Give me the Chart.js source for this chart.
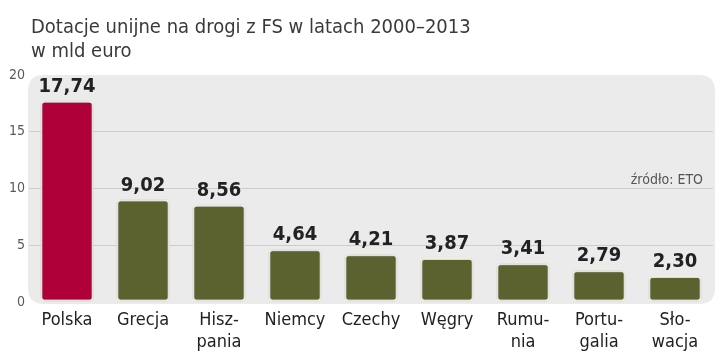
<!DOCTYPE html>
<html>
<head>
<meta charset="utf-8">
<script src="https://cdn.jsdelivr.net/npm/chart.js@4"></script>
<style>
html,body{margin:0;padding:0;background:#fff;}
#wrap{width:720px;height:364px;position:relative;}
</style>
</head>
<body>
<div id="wrap"><canvas id="c" width="720" height="364"></canvas></div>
<script>
const categories = [["Polska"], ["Grecja"], ["Hisz-", "pania"], ["Niemcy"], ["Czechy"], ["Węgry"], ["Rumu-", "nia"], ["Portu-", "galia"], ["Sło-", "wacja"]];
const values = [17.74, 9.02, 8.56, 4.64, 4.21, 3.87, 3.41, 2.79, 2.30];
const valueLabels = ["17,74", "9,02", "8,56", "4,64", "4,21", "3,87", "3,41", "2,79", "2,30"];
const barColors = ["#B0003A", "#5C6130", "#5C6130", "#5C6130", "#5C6130", "#5C6130", "#5C6130", "#5C6130", "#5C6130"];
const yTicks = [0, 5, 10, 15, 20];
const titleLines = ["Dotacje unijne na drogi z FS w latach 2000–2013", "w mld euro"];
const sourceText = "źródło: ETO";

const COND = '"DejaVu Sans Condensed", "DejaVu Sans", sans-serif';

const panelPlugin = {
  id: 'panel',
  beforeDraw(chart) {
    const {ctx, chartArea: a} = chart;
    ctx.save();
    const x = a.left - 1, y = a.top, w = a.right - a.left + 3, h = a.bottom - a.top + 2;
    const r = 16;
    ctx.beginPath();
    ctx.moveTo(x + r, y);
    ctx.lineTo(x + w - r, y);
    ctx.quadraticCurveTo(x + w, y, x + w, y + r);
    ctx.lineTo(x + w, y + h - r);
    ctx.quadraticCurveTo(x + w, y + h, x + w - r, y + h);
    ctx.lineTo(x + r, y + h);
    ctx.quadraticCurveTo(x, y + h, x, y + h - r);
    ctx.lineTo(x, y + r);
    ctx.quadraticCurveTo(x, y, x + r, y);
    ctx.closePath();
    ctx.fillStyle = '#ebebeb';
    ctx.fill();
    ctx.restore();
  },
  beforeDatasetsDraw(chart) {
    const ctx = chart.ctx;
    ctx.save();
    ctx.shadowColor = 'rgba(0,0,0,0.28)';
    ctx.shadowBlur = 3;
    ctx.shadowOffsetX = 0;
    ctx.shadowOffsetY = 0;
  },
  afterDatasetsDraw(chart) {
    const ctx = chart.ctx;
    ctx.restore();
    const meta = chart.getDatasetMeta(0);
    ctx.save();
    ctx.font = 'bold 20px ' + COND;
    ctx.fillStyle = '#222222';
    ctx.textAlign = 'center';
    ctx.textBaseline = 'alphabetic';
    meta.data.forEach((bar, i) => {
      ctx.fillText(valueLabels[i], bar.x, bar.y - 9);
    });
    ctx.restore();
  },
  afterDraw(chart) {
    const ctx = chart.ctx;
    const a = chart.chartArea;
    ctx.save();
    ctx.fillStyle = '#3a3a3a';
    ctx.font = '20px ' + COND;
    ctx.textAlign = 'left';
    ctx.textBaseline = 'alphabetic';
    ctx.fillText(titleLines[0], 31, 33);
    ctx.fillText(titleLines[1], 31, 57);
    ctx.font = '14px ' + COND;
    ctx.fillStyle = '#555555';
    ctx.textAlign = 'right';
    ctx.fillText(sourceText, a.right - 10, chart.scales.y.getPixelForValue(10) - 5);
    ctx.restore();
  }
};

new Chart(document.getElementById('c'), {
  type: 'bar',
  data: {
    labels: categories,
    datasets: [{
      data: values,
      backgroundColor: barColors,
      borderColor: '#f7f5ec',
      borderWidth: 2,
      borderRadius: 4,
      borderSkipped: false,
      barPercentage: 0.7,
      categoryPercentage: 1.0
    }]
  },
  options: {
    responsive: false,
    animation: false,
    devicePixelRatio: 1,
    layout: { padding: { top: 75, right: 7, bottom: 0, left: 0 } },
    plugins: { legend: { display: false }, tooltip: { enabled: false }, title: { display: false } },
    scales: {
      x: {
        grid: { display: false, drawTicks: false },
        border: { display: false },
        ticks: {
          color: '#222222',
          font: { family: COND, size: 18 },
          padding: 8,
          maxRotation: 0,
          autoSkip: false
        },
        afterFit(scale) { scale.height = 62; }
      },
      y: {
        min: 0, max: 20,
        afterBuildTicks(scale) { scale.ticks = yTicks.map(v => ({ value: v })); },
        grid: {
          drawTicks: false,
          color: (c) => (c.tick && c.tick.value > 0 && c.tick.value < 20) ? '#cdcdcd' : 'rgba(0,0,0,0)',
          lineWidth: 1
        },
        border: { display: false },
        ticks: {
          color: '#5a5a5a',
          font: { family: COND, size: 14 },
          padding: 4
        },
        afterFit(scale) { scale.width = 29; }
      }
    }
  },
  plugins: [panelPlugin]
});
</script>
</body>
</html>
